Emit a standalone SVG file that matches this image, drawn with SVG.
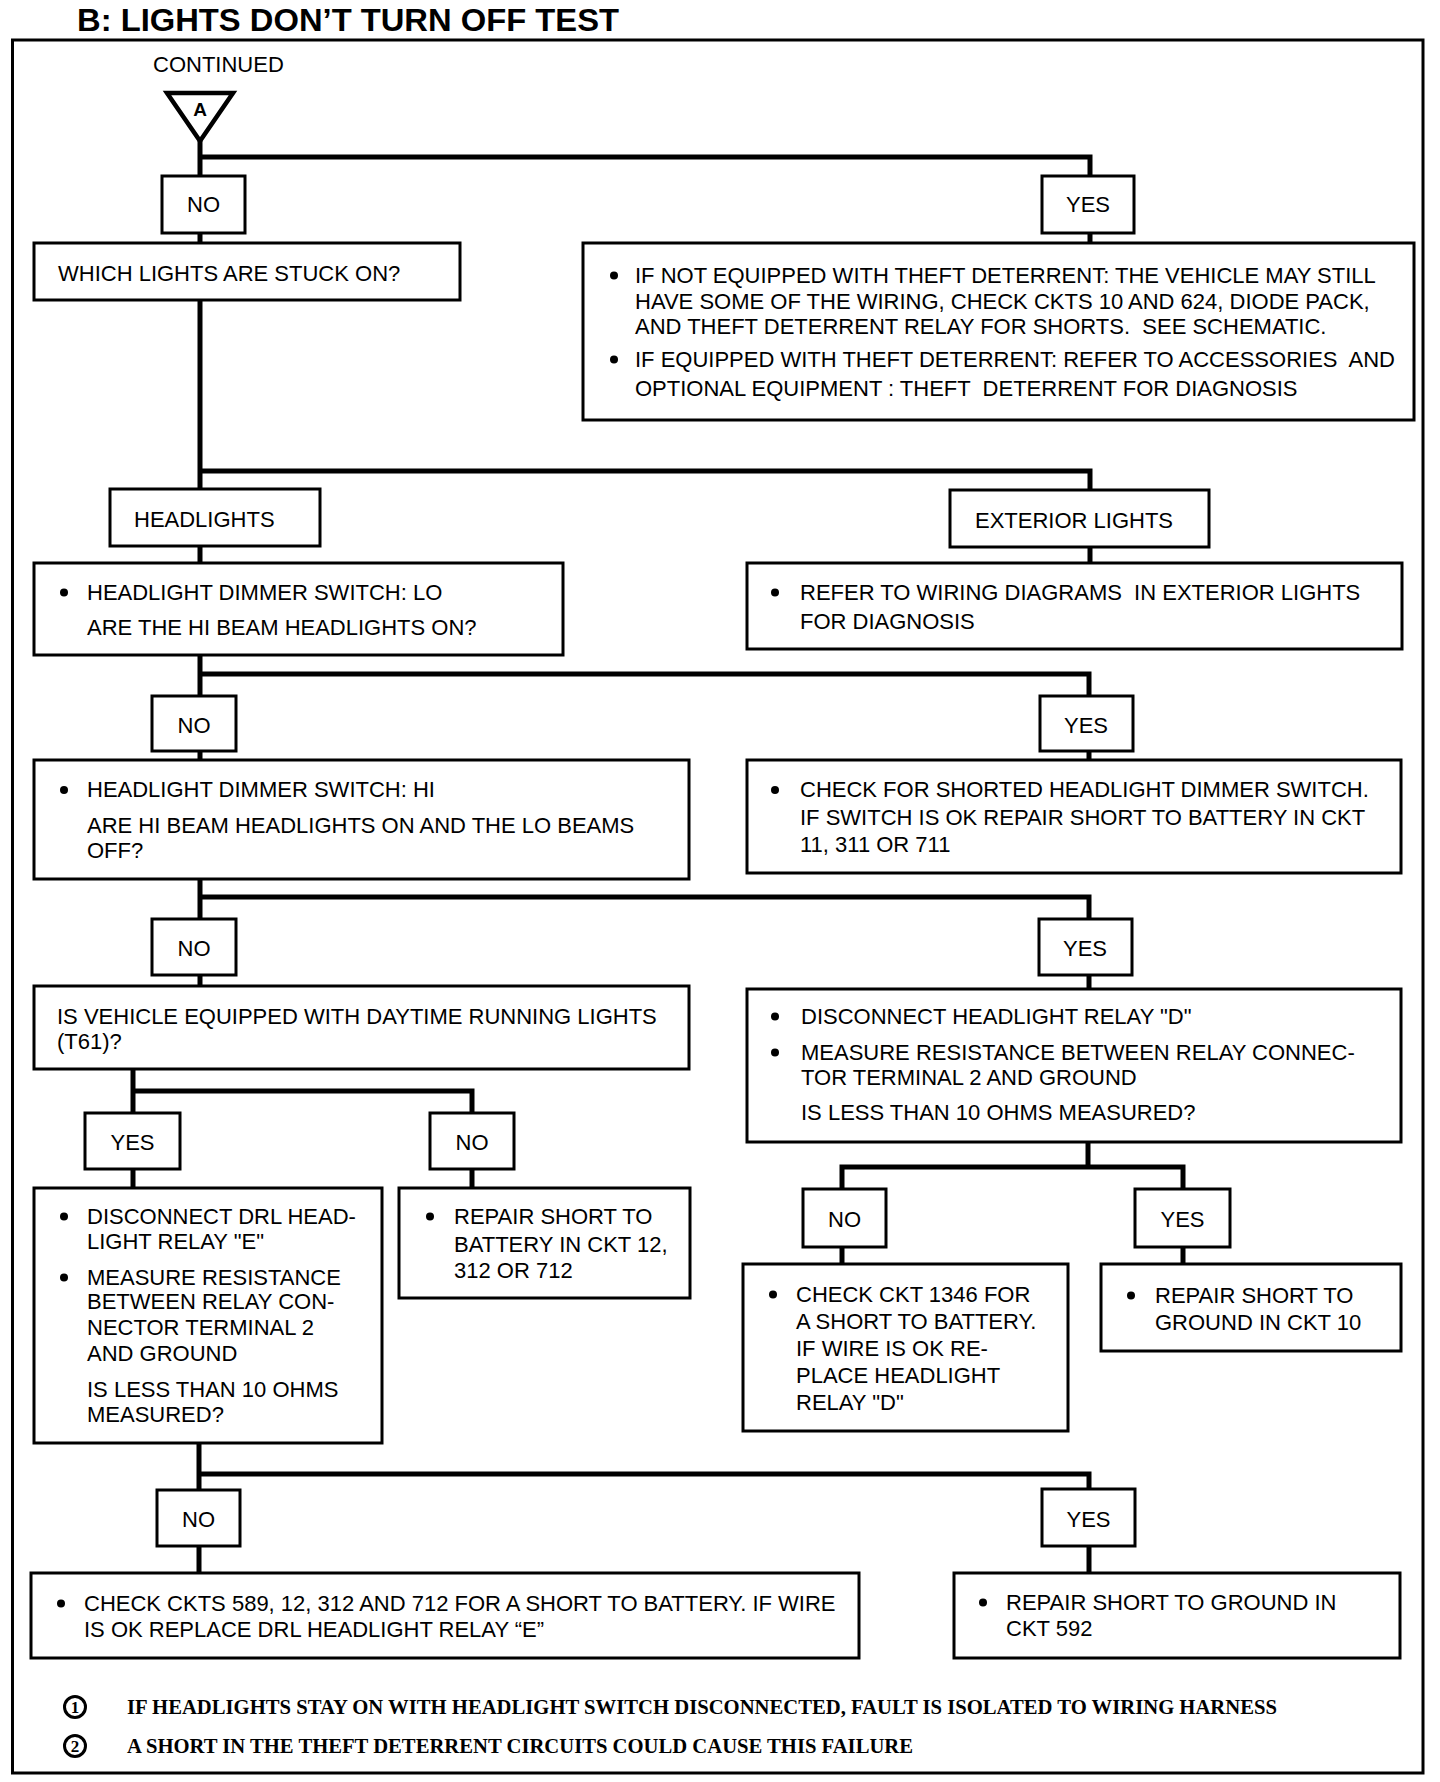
<svg xmlns="http://www.w3.org/2000/svg" width="1440" height="1782" viewBox="0 0 1440 1782">
<style>
.bg{fill:#fff}
.frame{fill:none;stroke:#000;stroke-width:3}
.box{fill:#fff;stroke:#000;stroke-width:3}
.wire{fill:none;stroke:#000;stroke-width:5;stroke-linejoin:miter}
.t{font-family:"Liberation Sans",Arial,Helvetica,sans-serif;font-size:22px;fill:#000}
.c{text-anchor:middle}
.title{font-family:"Liberation Sans",Arial,Helvetica,sans-serif;font-size:31px;font-weight:bold;fill:#000}
.fn{font-family:"Liberation Serif","Times New Roman",serif;font-size:21px;font-weight:bold;fill:#000}
.num{font-family:"Liberation Serif","Times New Roman",serif;font-size:17px;font-weight:bold;fill:#000;text-anchor:middle}
.ring{fill:#fff;stroke:#000;stroke-width:3}
.dot{fill:#000}
</style>
<rect class="bg" x="0" y="0" width="1440" height="1782"/>
<text class="title" x="77" y="31" textLength="542" lengthAdjust="spacingAndGlyphs">B: LIGHTS DON’T TURN OFF TEST</text>
<rect class="frame" x="12.5" y="40" width="1410.5" height="1733"/>
<text class="t" x="153" y="72">CONTINUED</text>

<g id="connectors">
<path class="wire" d="M200,141 V674"/>
<path class="wire" d="M200,157 H1090 V243"/>
<path class="wire" d="M200,471 H1090 V563"/>
<path class="wire" d="M200,674 H1089 V760"/>
<path class="wire" d="M200,674 V986"/>
<path class="wire" d="M200,897 H1089 V989"/>
<path class="wire" d="M133,1069 V1188"/>
<path class="wire" d="M133,1091 H472 V1188"/>
<path class="wire" d="M199,1443 V1573"/>
<path class="wire" d="M199,1474 H1089 V1573"/>
<path class="wire" d="M1088,1142 V1167"/>
<path class="wire" d="M842,1264 V1167 H1183 V1264"/>
</g>

<g id="startA">
<polygon points="167,93 233,93 200,141" fill="#fff" stroke="#000" stroke-width="4.5" stroke-linejoin="miter"/>
<text class="t c" x="200" y="116" style="font-weight:bold;font-size:19px">A</text>
</g>

<g id="no1"><rect class="box" x="162" y="176" width="83" height="57"/><text class="t c" x="203.5" y="212">NO</text></g>
<g id="yes1"><rect class="box" x="1042" y="176" width="92" height="57"/><text class="t c" x="1088" y="212">YES</text></g>

<g id="whichLights"><rect class="box" x="34" y="243" width="426" height="57"/><text class="t" x="58" y="281">WHICH LIGHTS ARE STUCK ON?</text></g>

<g id="theftDeterrent"><rect class="box" x="583" y="243" width="831" height="177"/>
<circle class="dot" cx="614" cy="275.5" r="4"/>
<text class="t" x="635" y="283">IF NOT EQUIPPED WITH THEFT DETERRENT: THE VEHICLE MAY STILL</text>
<text class="t" x="635" y="309">HAVE SOME OF THE WIRING, CHECK CKTS 10 AND 624, DIODE PACK,</text>
<text class="t" x="635" y="334" xml:space="preserve">AND THEFT DETERRENT RELAY FOR SHORTS.  SEE SCHEMATIC.</text>
<circle class="dot" cx="614" cy="359.5" r="4"/>
<text class="t" x="635" y="367" xml:space="preserve">IF EQUIPPED WITH THEFT DETERRENT: REFER TO ACCESSORIES  AND</text>
<text class="t" x="635" y="396" xml:space="preserve">OPTIONAL EQUIPMENT : THEFT  DETERRENT FOR DIAGNOSIS</text>
</g>

<g id="headlights"><rect class="box" x="110" y="489" width="210" height="57"/><text class="t" x="134" y="527">HEADLIGHTS</text></g>
<g id="exteriorLights"><rect class="box" x="950" y="490" width="259" height="57"/><text class="t" x="975" y="528">EXTERIOR LIGHTS</text></g>

<g id="dimmerLo"><rect class="box" x="34" y="563" width="529" height="92"/>
<circle class="dot" cx="64" cy="592.5" r="4"/>
<text class="t" x="87" y="600">HEADLIGHT DIMMER SWITCH: LO</text>
<text class="t" x="87" y="635">ARE THE HI BEAM HEADLIGHTS ON?</text>
</g>

<g id="referWiring"><rect class="box" x="747" y="563" width="655" height="86"/>
<circle class="dot" cx="775" cy="592.5" r="4"/>
<text class="t" x="800" y="600" xml:space="preserve">REFER TO WIRING DIAGRAMS  IN EXTERIOR LIGHTS</text>
<text class="t" x="800" y="629">FOR DIAGNOSIS</text>
</g>

<g id="no3"><rect class="box" x="152" y="696" width="84" height="55"/><text class="t c" x="194" y="733">NO</text></g>
<g id="yes3"><rect class="box" x="1040" y="696" width="93" height="55"/><text class="t c" x="1086" y="733">YES</text></g>

<g id="dimmerHi"><rect class="box" x="34" y="760" width="655" height="119"/>
<circle class="dot" cx="64" cy="790" r="4"/>
<text class="t" x="87" y="797">HEADLIGHT DIMMER SWITCH: HI</text>
<text class="t" x="87" y="833">ARE HI BEAM HEADLIGHTS ON AND THE LO BEAMS</text>
<text class="t" x="87" y="858">OFF?</text>
</g>

<g id="shortedDimmer"><rect class="box" x="747" y="760" width="654" height="113"/>
<circle class="dot" cx="775" cy="790" r="4"/>
<text class="t" x="800" y="797">CHECK FOR SHORTED HEADLIGHT DIMMER SWITCH.</text>
<text class="t" x="800" y="825">IF SWITCH IS OK REPAIR SHORT TO BATTERY IN CKT</text>
<text class="t" x="800" y="852">11, 311 OR 711</text>
</g>

<g id="no4"><rect class="box" x="152" y="919" width="84" height="56"/><text class="t c" x="194" y="956">NO</text></g>
<g id="yes4"><rect class="box" x="1039" y="919" width="93" height="56"/><text class="t c" x="1085" y="956">YES</text></g>

<g id="daytimeLights"><rect class="box" x="34" y="986" width="655" height="83"/>
<text class="t" x="57" y="1024">IS VEHICLE EQUIPPED WITH DAYTIME RUNNING LIGHTS</text>
<text class="t" x="57" y="1049">(T61)?</text>
</g>

<g id="relayD"><rect class="box" x="747" y="989" width="654" height="153"/>
<circle class="dot" cx="775" cy="1016.5" r="4"/>
<text class="t" x="801" y="1024">DISCONNECT HEADLIGHT RELAY "D"</text>
<circle class="dot" cx="775" cy="1052.5" r="4"/>
<text class="t" x="801" y="1060">MEASURE RESISTANCE BETWEEN RELAY CONNEC-</text>
<text class="t" x="801" y="1085">TOR TERMINAL 2 AND GROUND</text>
<text class="t" x="801" y="1120">IS LESS THAN 10 OHMS MEASURED?</text>
</g>

<g id="yes5"><rect class="box" x="85" y="1113" width="95" height="56"/><text class="t c" x="132.5" y="1150">YES</text></g>
<g id="no5"><rect class="box" x="430" y="1113" width="84" height="56"/><text class="t c" x="472" y="1150">NO</text></g>

<g id="drlRelayE"><rect class="box" x="34" y="1188" width="348" height="255"/>
<circle class="dot" cx="64" cy="1216.5" r="4"/>
<text class="t" x="87" y="1224">DISCONNECT DRL HEAD-</text>
<text class="t" x="87" y="1249">LIGHT RELAY "E"</text>
<circle class="dot" cx="64" cy="1277.5" r="4"/>
<text class="t" x="87" y="1285">MEASURE RESISTANCE</text>
<text class="t" x="87" y="1309">BETWEEN RELAY CON-</text>
<text class="t" x="87" y="1335">NECTOR TERMINAL 2</text>
<text class="t" x="87" y="1361">AND GROUND</text>
<text class="t" x="87" y="1397">IS LESS THAN 10 OHMS</text>
<text class="t" x="87" y="1422">MEASURED?</text>
</g>

<g id="shortBattery"><rect class="box" x="399" y="1188" width="291" height="110"/>
<circle class="dot" cx="430" cy="1216.5" r="4"/>
<text class="t" x="454" y="1224">REPAIR SHORT TO</text>
<text class="t" x="454" y="1252">BATTERY IN CKT 12,</text>
<text class="t" x="454" y="1278">312 OR 712</text>
</g>

<g id="no6"><rect class="box" x="803" y="1189" width="83" height="58"/><text class="t c" x="844.5" y="1227">NO</text></g>
<g id="yes6"><rect class="box" x="1135" y="1189" width="95" height="58"/><text class="t c" x="1182.5" y="1227">YES</text></g>

<g id="ckt1346"><rect class="box" x="743" y="1264" width="325" height="167"/>
<circle class="dot" cx="773" cy="1294.5" r="4"/>
<text class="t" x="796" y="1302">CHECK CKT 1346 FOR</text>
<text class="t" x="796" y="1329">A SHORT TO BATTERY.</text>
<text class="t" x="796" y="1356">IF WIRE IS OK RE-</text>
<text class="t" x="796" y="1383">PLACE HEADLIGHT</text>
<text class="t" x="796" y="1410">RELAY "D"</text>
</g>

<g id="groundCkt10"><rect class="box" x="1101" y="1264" width="300" height="87"/>
<circle class="dot" cx="1131" cy="1295.5" r="4"/>
<text class="t" x="1155" y="1303">REPAIR SHORT TO</text>
<text class="t" x="1155" y="1330">GROUND IN CKT 10</text>
</g>

<g id="no7"><rect class="box" x="157" y="1490" width="83" height="56"/><text class="t c" x="198.5" y="1527">NO</text></g>
<g id="yes7"><rect class="box" x="1042" y="1489" width="93" height="57"/><text class="t c" x="1088.5" y="1527">YES</text></g>

<g id="ckts589"><rect class="box" x="31" y="1573" width="828" height="85"/>
<circle class="dot" cx="61" cy="1603.5" r="4"/>
<text class="t" x="84" y="1611">CHECK CKTS 589, 12, 312 AND 712 FOR A SHORT TO BATTERY. IF WIRE</text>
<text class="t" x="84" y="1637">IS OK REPLACE DRL HEADLIGHT RELAY “E”</text>
</g>

<g id="groundCkt592"><rect class="box" x="954" y="1573" width="446" height="85"/>
<circle class="dot" cx="983" cy="1602.5" r="4"/>
<text class="t" x="1006" y="1610">REPAIR SHORT TO GROUND IN</text>
<text class="t" x="1006" y="1636">CKT 592</text>
</g>

<g id="footnotes">
<circle class="ring" cx="75" cy="1707" r="10.5"/>
<text class="num" x="75" y="1713">1</text>
<text class="fn" x="127" y="1714" textLength="1150" lengthAdjust="spacingAndGlyphs">IF HEADLIGHTS STAY ON WITH HEADLIGHT SWITCH DISCONNECTED, FAULT IS ISOLATED TO WIRING HARNESS</text>
<circle class="ring" cx="75" cy="1746" r="10.5"/>
<text class="num" x="75" y="1752">2</text>
<text class="fn" x="127" y="1753" textLength="786" lengthAdjust="spacingAndGlyphs">A SHORT IN THE THEFT DETERRENT CIRCUITS COULD CAUSE THIS FAILURE</text>
</g>
</svg>
